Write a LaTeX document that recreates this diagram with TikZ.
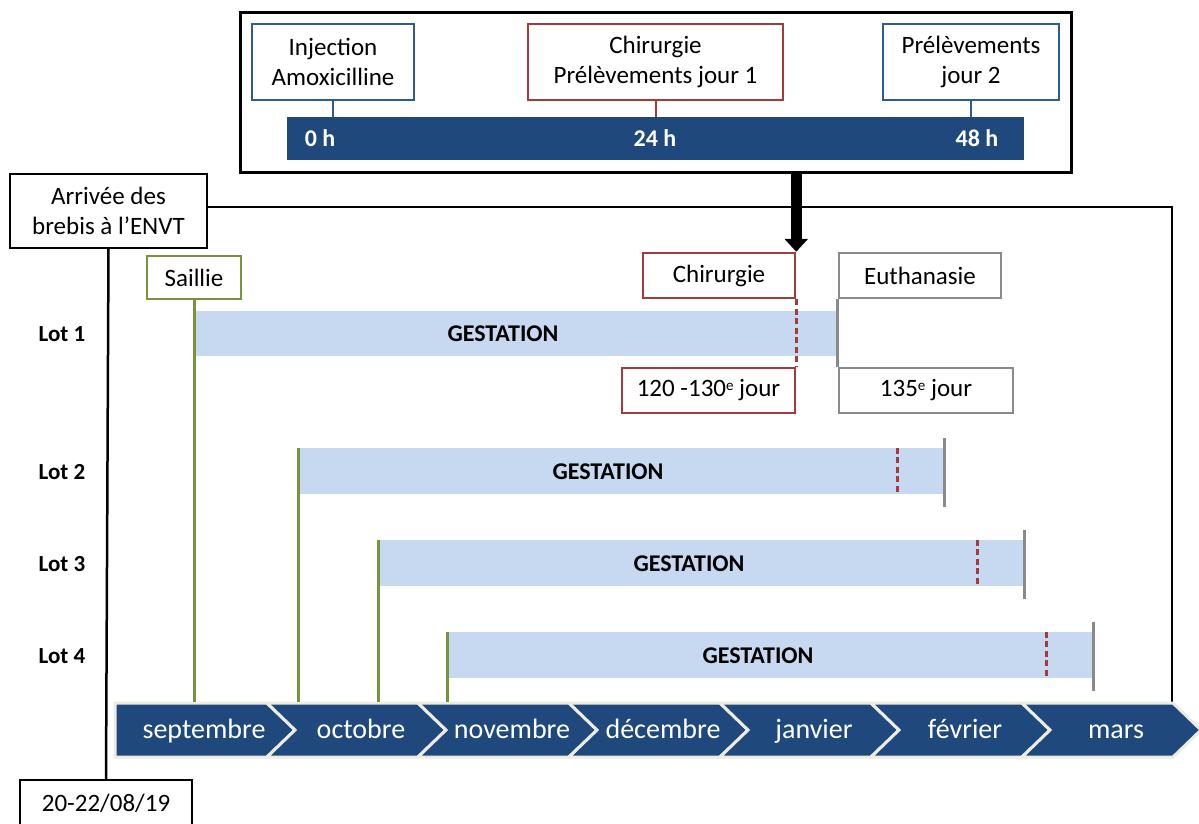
\documentclass[tikz,border=0pt]{standalone}
\usepackage{fontspec}
\setmainfont{Carlito}
\usetikzlibrary{arrows.meta}
\definecolor{dblue}{HTML}{1F497D}
\definecolor{bblue}{HTML}{2E5C8F}
\definecolor{dred}{HTML}{A33B3B}
\definecolor{dgreen}{HTML}{77933C}
\definecolor{dgray}{HTML}{8A8A8A}
\definecolor{lblue}{HTML}{C6D9F1}
\definecolor{beige}{HTML}{EEECE1}
\newcommand\myexp{\raisebox{0.55ex}{\fontsize{15}{15}\selectfont e}}
\tikzset{
  mybox/.style={draw, line width=2.5pt, fill=white, align=center, inner sep=0pt, font=\fontsize{25}{30}\selectfont},
  hourlbl/.style={text=white, font=\bfseries\fontsize{24}{28}\selectfont, inner sep=0pt, anchor=base},
  lotlbl/.style={font=\bfseries\fontsize{23}{27}\selectfont, inner sep=0pt, anchor=base},
  gestbar/.style={fill=lblue, inner sep=0pt, minimum width=645pt, minimum height=46pt},
  gesttxt/.style={font=\bfseries\fontsize{24}{28}\selectfont, inner sep=0pt, anchor=base},
  chev/.style={fill=dblue, draw=beige, line width=3pt, line join=miter},
  month/.style={text=white, font=\fontsize{28}{32}\selectfont, inner sep=0pt, anchor=base},
  greenline/.style={draw=dgreen, line width=3pt},
  redline/.style={draw=dred, line width=3pt, dash pattern=on 6pt off 3.5pt},
  grayline/.style={draw=dgray, line width=3pt},
  frameline/.style={draw=black, line width=2.5pt}
}
\begin{document}
\begin{tikzpicture}[x=1pt,y=-1pt]
\useasboundingbox (0,0) rectangle (1199,823);

% ---- top detail box
\node[draw=black, line width=3pt, minimum width=831pt, minimum height=160pt, inner sep=0pt] (top) at (655.5,92) {};
\node[fill=dblue, minimum width=737pt, minimum height=43pt, inner sep=0pt] (bar) at (655.5,138.5) {};
\node[mybox, draw=bblue, minimum width=162pt, minimum height=76pt] (inj) at (333,62) {Injection\\Amoxicilline};
\node[mybox, draw=dred, minimum width=255pt, minimum height=76pt] (chir1) at (655.5,62) {Chirurgie\\Prélèvements jour 1};
\node[mybox, draw=bblue, minimum width=176pt, minimum height=76pt] (prel) at (971,62) {Prélèvements\\jour 2};
\draw[bblue, line width=2pt] (inj.south) -- (inj.south |- bar.north);
\draw[dred, line width=2pt] (chir1.south) -- (chir1.south |- bar.north);
\draw[bblue, line width=2pt] (prel.south) -- (prel.south |- bar.north);
\node[hourlbl] (h0) at (320,146) {0 h};
\node[hourlbl] (h24) at (655,146) {24 h};
\node[hourlbl] (h48) at (977,146) {48 h};

% ---- arrival box and frame
\node[mybox, draw=black, line width=2pt, minimum width=197pt, minimum height=74pt] (arr) at (108.5,211) {Arrivée des\\brebis à l’ENVT};
\node[mybox, draw=black, line width=2pt, minimum width=172pt, minimum height=46pt] (date) at (106,803) {20-22/08/19};
\coordinate (fl) at (207,207);
\coordinate (fr) at (1172,207);
\coordinate (fb) at (1172,702);
\draw[frameline] (fl) -- (fr) -- (fb);
\draw[frameline] (arr.south) -- (date.north);

% ---- gestation bars
\node[gestbar, minimum width=644pt, minimum height=45pt] (g1) at (517,333.5) {};
\node[gestbar] (g2) at (621.5,471) {};
\node[gestbar] (g3) at (701.5,563) {};
\node[gestbar] (g4) at (770.5,655) {};
\node[gesttxt] (t1) at (503,341) {GESTATION};
\node[gesttxt] (t2) at (608,479) {GESTATION};
\node[gesttxt] (t3) at (689,571) {GESTATION};
\node[gesttxt] (t4) at (758,663) {GESTATION};

\node[lotlbl] (l1) at (62,341) {Lot 1};
\node[lotlbl] (l2) at (62,479) {Lot 2};
\node[lotlbl] (l3) at (62,571) {Lot 3};
\node[lotlbl] (l4) at (62,663) {Lot 4};

% ---- lot 1 event boxes
\node[mybox, draw=dgreen, minimum width=94pt, minimum height=43pt] (sail) at (194,277.5) {Saillie};
\node[mybox, draw=dred, minimum width=152pt, minimum height=45pt] (chir2) at (719,275.5) {Chirurgie};
\node[mybox, draw=dgray, minimum width=162pt, minimum height=45pt] (euth) at (920,275.5) {Euthanasie};
\node[mybox, draw=dred, minimum width=173pt, minimum height=45pt] (j120) at (708.5,390.5) {120 -130\myexp\ jour};
\node[mybox, draw=dgray, minimum width=174pt, minimum height=45pt] (j135) at (926,390.5) {135\myexp\ jour};

\draw[redline] (chir2.south east) -- (j120.north east);
\draw[grayline] (euth.south west) -- (j135.north west);
\draw[line width=11pt, -{Triangle[width=23pt,length=13pt]}] (top.south -| chir2.north east) -- (chir2.north east);

% ---- month timeline
\coordinate (tl) at (0,702);
\path[chev] (115,703) -- (267,703) -- (295,730) -- (267,757) -- (115,757) -- cycle;
\foreach \i in {1,...,6}{
  \pgfmathsetmacro\a{267+151*(\i-1)}
  \pgfmathsetmacro\b{267+151*\i}
  \path[chev] (\a,703) -- (\b,703) -- (\b+28,730) -- (\b,757) -- (\a,757) -- (\a+28,730) -- cycle;
}
\node[month] (m1) at (204,738) {septembre};
\node[month] (m2) at (361,738) {octobre};
\node[month] (m3) at (512,738) {novembre};
\node[month] (m4) at (663,738) {décembre};
\node[month] (m5) at (814,738) {janvier};
\node[month] (m6) at (965,738) {février};
\node[month] (m7) at (1116,738) {mars};

% ---- saillie lines
\draw[greenline] (sail.south) -- (sail.south |- tl);
\draw[greenline] (g2.north west) -- (g2.north west |- tl);
\draw[greenline] (g3.north west) -- (g3.north west |- tl);
\draw[greenline] (g4.north west) -- (g4.north west |- tl);

% ---- surgery (dashed) and end (gray) marks lots 2-4
\draw[redline] ([xshift=599pt]g2.north west) -- ([xshift=599pt]g2.south west);
\draw[redline] ([xshift=599pt]g3.north west) -- ([xshift=599pt]g3.south west);
\draw[redline] ([xshift=599pt]g4.north west) -- ([xshift=599pt]g4.south west);
\draw[grayline] ([yshift=10pt]g2.north east) -- ([yshift=-13pt]g2.south east);
\draw[grayline] ([yshift=10pt]g3.north east) -- ([yshift=-13pt]g3.south east);
\draw[grayline] ([yshift=10pt]g4.north east) -- ([yshift=-13pt]g4.south east);
\end{tikzpicture}
\end{document}
